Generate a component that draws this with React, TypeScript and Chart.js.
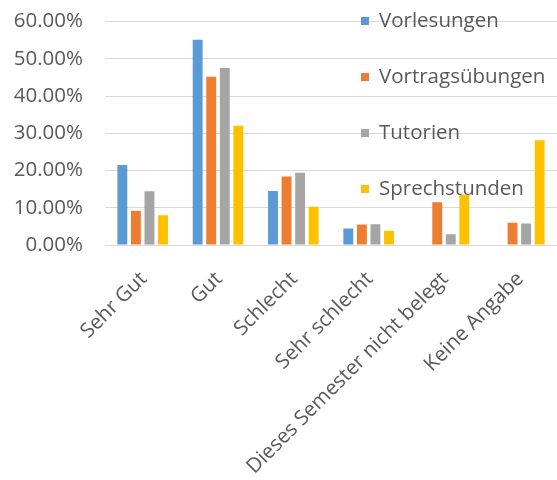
import React, { useEffect, useRef } from "react";
import { Chart, registerables } from "chart.js";

Chart.register(...registerables);

const categories = [
  "Sehr Gut",
  "Gut",
  "Schlecht",
  "Sehr schlecht",
  "Dieses Semester nicht belegt",
  "Keine Angabe",
];
const seriesNames = ["Vorlesungen", "Vortragsübungen", "Tutorien", "Sprechstunden"];
const vorlesungen = [21.5, 55.1, 14.5, 4.4, 0, 0];
const vortragsuebungen = [9.2, 45.2, 18.4, 5.5, 11.5, 6.0];
const tutorien = [14.4, 47.5, 19.4, 5.6, 2.9, 5.8];
const sprechstunden = [8.0, 32.0, 10.3, 3.8, 13.4, 28.1];
const colors = ["#5B9BD5", "#ED7D31", "#A5A5A5", "#FFC000"];
const yTicks = [0, 10, 20, 30, 40, 50, 60];

const FONT = "'Open Sans', sans-serif";
const TEXT = "#595959";
const SIZE = 20.5;

const legendPlugin = {
  id: "overlayLegend",
  afterDraw(chart: any) {
    const ctx = chart.ctx;
    ctx.save();
    ctx.font = `${SIZE}px ${FONT}`;
    ctx.textBaseline = "middle";
    ctx.textAlign = "left";
    chart.data.datasets.forEach((ds: any, i: number) => {
      const y = 21 + 56 * i;
      ctx.fillStyle = ds.backgroundColor;
      ctx.fillRect(361, y - 4, 8, 8);
      ctx.fillStyle = TEXT;
      ctx.fillText(ds.label, 379, y);
    });
    ctx.restore();
  },
};

export default function App() {
  const ref = useRef<HTMLCanvasElement>(null);
  useEffect(() => {
    const values = [vorlesungen, vortragsuebungen, tutorien, sprechstunden];
    const chart = new Chart(ref.current!, {
      type: "bar",
      data: {
        labels: categories,
        datasets: seriesNames.map((name, i) => ({
          label: name,
          data: values[i],
          backgroundColor: colors[i],
          categoryPercentage: 0.72,
          barPercentage: 0.73,
        })),
      },
      options: {
        animation: false,
        responsive: true,
        maintainAspectRatio: false,
        layout: { padding: { top: 21.5, right: 0, left: 0, bottom: 0 } },
        plugins: {
          legend: { display: false },
          tooltip: { enabled: false },
        },
        scales: {
          x: {
            grid: { display: false, drawTicks: false },
            border: { display: true, color: "#D9D9D9", width: 1 },
            ticks: {
              color: TEXT,
              font: { family: FONT, size: SIZE },
              minRotation: 45,
              maxRotation: 45,
              padding: 22,
              labelOffset: 1,
            },
            afterFit: (s: any) => {
              s.height = 235;
              s.paddingLeft = 0;
              s.paddingRight = 0;
            },
          },
          y: {
            min: 0,
            max: 60,
            afterBuildTicks: (s: any) => {
              s.ticks = yTicks.map((v) => ({ value: v }));
            },
            grid: { color: "#D9D9D9", drawTicks: false, lineWidth: 1 },
            border: { display: false },
            ticks: {
              color: TEXT,
              font: { family: FONT, size: SIZE },
              padding: 22,
              callback: (v: any) => Number(v).toFixed(2) + "%",
            },
            afterFit: (s: any) => {
              s.width = 105;
              s.paddingTop = 0;
              s.paddingBottom = 0;
            },
          },
        },
      },
      plugins: [legendPlugin],
    });
    return () => chart.destroy();
  }, []);
  return (
    <div style={{ position: "fixed", left: 0, top: 0, width: 557, height: 480 }}>
      <canvas ref={ref} />
    </div>
  );
}
